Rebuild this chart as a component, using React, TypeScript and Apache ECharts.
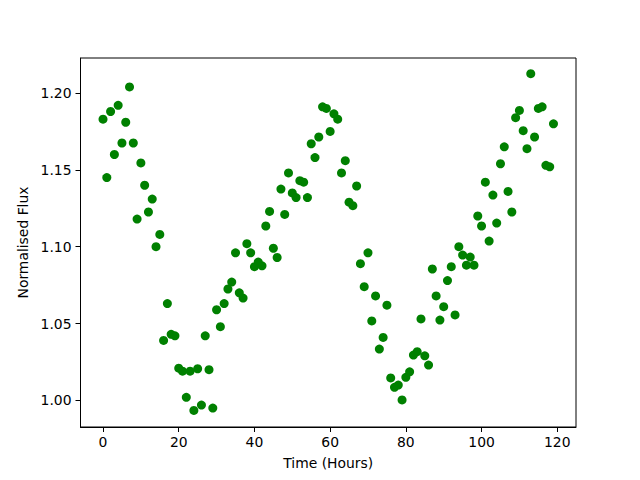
import React, { useEffect, useRef } from "react";
import * as echarts from "echarts";

const hours: number[] = Array.from({ length: 120 }, (_, i) => i);
const flux: number[] = [
  1.183, 1.145, 1.188, 1.160, 1.192, 1.1675, 1.181, 1.204, 1.1675, 1.118,
  1.1545, 1.140, 1.1226, 1.131, 1.100, 1.108, 1.039, 1.063, 1.043, 1.042,
  1.021, 1.019, 1.002, 1.019, 0.9935, 1.0206, 0.997, 1.042, 1.020, 0.995,
  1.059, 1.048, 1.063, 1.0725, 1.077, 1.096, 1.070, 1.0666, 1.102, 1.096,
  1.087, 1.090, 1.0876, 1.1135, 1.123, 1.099, 1.093, 1.1375, 1.121, 1.148,
  1.135, 1.132, 1.143, 1.142, 1.132, 1.167, 1.158, 1.1714, 1.191, 1.190,
  1.175, 1.1865, 1.183, 1.148, 1.156, 1.129, 1.1267, 1.1395, 1.089, 1.074,
  1.096, 1.0517, 1.068, 1.0334, 1.041, 1.062, 1.0146, 1.0085, 1.010, 1.0003,
  1.015, 1.0186, 1.0295, 1.0317, 1.053, 1.029, 1.023, 1.0855, 1.068, 1.0523,
  1.061, 1.078, 1.087, 1.0556, 1.100, 1.0946, 1.088, 1.0933, 1.088, 1.120,
  1.1135, 1.142, 1.1037, 1.1336, 1.1154, 1.154, 1.165, 1.136, 1.1226, 1.184,
  1.1887, 1.1755, 1.1638, 1.2126, 1.1714, 1.190, 1.191, 1.153, 1.152, 1.180,
];
const xTicks: number[] = [0, 20, 40, 60, 80, 100, 120];
const yTicks: number[] = [1.0, 1.05, 1.1, 1.15, 1.2];

const FONT = "DejaVu Sans";

export default function App() {
  const ref = useRef<HTMLDivElement>(null);
  useEffect(() => {
    if (!ref.current) return;
    const chart = echarts.init(ref.current, undefined, { renderer: "svg" });
    const data = hours.map((h, i) => [h, flux[i]]);
    chart.setOption({
      animation: false,
      backgroundColor: "#ffffff",
      grid: {
        left: 80.5,
        right: 64,
        top: 58,
        bottom: 53,
        show: true,
        borderColor: "#000",
        borderWidth: 1,
        backgroundColor: "transparent",
      },
      xAxis: {
        type: "value",
        min: -5.95,
        max: 124.95,
        name: "Time (Hours)",
        nameLocation: "middle",
        nameGap: 29,
        nameTextStyle: { fontFamily: FONT, fontSize: 13.9, color: "#000" },
        axisLine: { show: true, onZero: false, lineStyle: { color: "#000", width: 1 } },
        axisTick: { show: true, inside: false, length: 5, customValues: xTicks, lineStyle: { color: "#000", width: 1 } },
        axisLabel: {
          show: true,
          customValues: xTicks,
          margin: 8,
          fontFamily: FONT,
          fontSize: 13.9,
          color: "#000",
          formatter: (v: number) => String(v),
        },
        splitLine: { show: false },
      },
      yAxis: {
        type: "value",
        min: 0.9827,
        max: 1.2228,
        name: "Normalised Flux",
        nameLocation: "middle",
        nameGap: 44,
        nameRotate: 90,
        nameTextStyle: { fontFamily: FONT, fontSize: 13.9, color: "#000" },
        axisLine: { show: true, onZero: false, lineStyle: { color: "#000", width: 1 } },
        axisTick: { show: true, inside: false, length: 5, customValues: yTicks, lineStyle: { color: "#000", width: 1 } },
        axisLabel: {
          show: true,
          customValues: yTicks,
          margin: 9,
          fontFamily: FONT,
          fontSize: 13.9,
          color: "#000",
          formatter: (v: number) => v.toFixed(2),
        },
        splitLine: { show: false },
      },
      series: [
        {
          type: "scatter",
          data,
          symbol: "circle",
          symbolSize: 9,
          itemStyle: { color: "#008000", opacity: 1 },
          silent: true,
        },
      ],
    });
    return () => chart.dispose();
  }, []);
  return (
    <div
      ref={ref}
      style={{ position: "absolute", left: 0, top: 0, width: 640, height: 480, background: "#fff" }}
    />
  );
}
